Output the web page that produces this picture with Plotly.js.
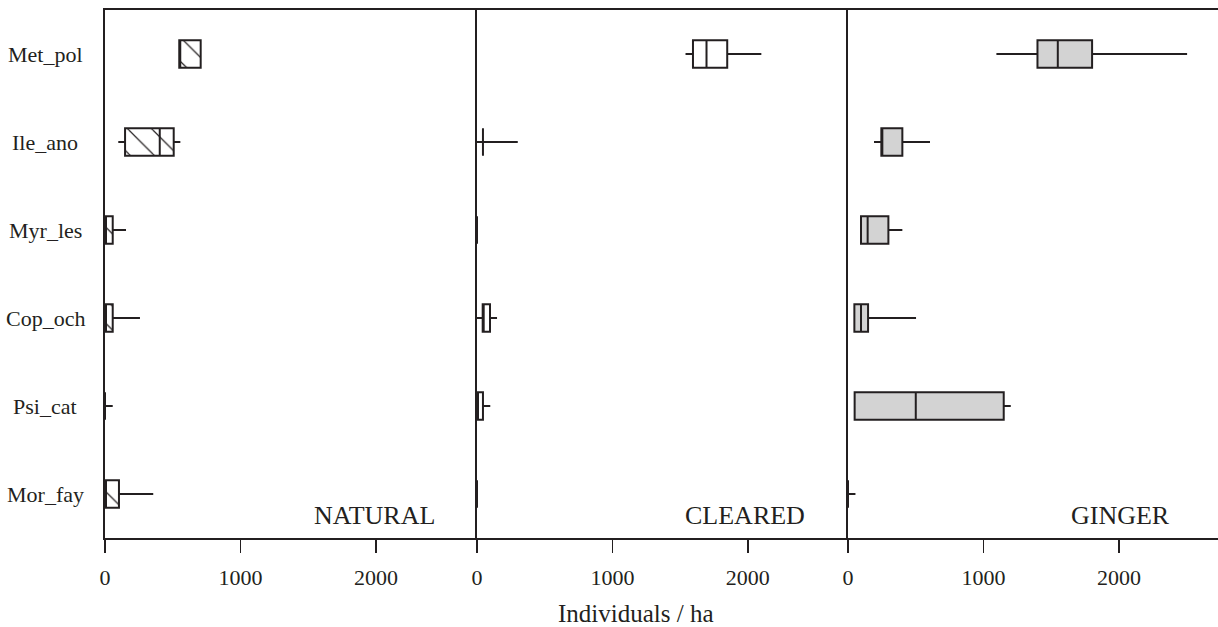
<!DOCTYPE html>
<html>
<head>
<meta charset="utf-8">
<script src="https://cdn.plot.ly/plotly-3.0.1.min.js"></script>
<style>html,body{margin:0;padding:0;background:#fff;}#chart{width:1218px;height:627px;}</style>
</head>
<body>
<div id="chart"></div>
<script>
// Species (top to bottom)
const categories = ['Met_pol','Ile_ano','Myr_les','Cop_och','Psi_cat','Mor_fay'];
const panelNames = ['NATURAL','CLEARED','GINGER'];
const tickValues = [0, 1000, 2000];
const axisTitle = 'Individuals / ha';

// NATURAL
const naturalMin = [548, 98, 0, 0, 0, 0];
const naturalQ1  = [548, 148, 0, 0, 0, 0];
const naturalMed = [548, 404, 0, 0, 0, 0];
const naturalQ3  = [706, 507, 57, 57, 0, 103];
const naturalMax = [706, 556, 155, 258, 57, 356];

// CLEARED
const clearedMin = [1540, 0, 0, 0, 0, 0];
const clearedQ1  = [1595, 44, 0, 42, 0, 0];
const clearedMed = [1695, 44, 0, 42, 0, 0];
const clearedQ3  = [1848, 44, 0, 96, 44, 0];
const clearedMax = [2100, 301, 0, 148, 98, 0];

// GINGER
const gingerMin = [1095, 192, 96, 47, 49, 0];
const gingerQ1  = [1398, 246, 96, 47, 49, 0];
const gingerMed = [1548, 246, 145, 96, 500, 0];
const gingerQ3  = [1801, 401, 298, 148, 1149, 0];
const gingerMax = [2502, 605, 401, 502, 1201, 55];

const INK = '#231f20';
const FONT = 'Liberation Serif, Times New Roman, serif';
const BOXW = 0.31;

function boxTrace(mn, q1, med, q3, mx, fill, xa, ya) {
  return {
    type: 'box', orientation: 'h', y: categories,
    q1: q1, median: med, q3: q3, lowerfence: mn, upperfence: mx,
    fillcolor: fill, line: {color: INK, width: 2}, whiskerwidth: 0,
    width: BOXW, boxpoints: false, showlegend: false, hoverinfo: 'skip',
    xaxis: xa, yaxis: ya
  };
}

const traces = [
  {
    type: 'bar', orientation: 'h', y: categories,
    base: naturalQ1, x: naturalQ3.map((v, i) => v - naturalQ1[i]),
    width: BOXW, showlegend: false, hoverinfo: 'skip',
    marker: {color: '#ffffff', line: {width: 0},
      pattern: {shape: '\\', fgcolor: INK, bgcolor: '#ffffff', size: 17, solidity: 0.07}},
    xaxis: 'x', yaxis: 'y'
  },
  boxTrace(naturalMin, naturalQ1, naturalMed, naturalQ3, naturalMax, 'rgba(0,0,0,0)', 'x', 'y'),
  boxTrace(clearedMin, clearedQ1, clearedMed, clearedQ3, clearedMax, '#ffffff', 'x2', 'y2'),
  boxTrace(gingerMin, gingerQ1, gingerMed, gingerQ3, gingerMax, '#d3d3d3', 'x3', 'y3')
];

const W = 1113; // plot width in px (1218 - 105)
const d1 = 372 / W, d2 = 743 / W;

function xAxis(dom, anchor, rng) {
  return {
    domain: dom, anchor: anchor, range: rng,
    tickvals: tickValues, ticktext: tickValues.map(String),
    ticks: 'outside', ticklen: 13, tickwidth: 1.5, tickcolor: INK,
    ticklabelstandoff: 6,
    showline: true, linewidth: 2, linecolor: INK, mirror: true,
    showgrid: false, zeroline: false, fixedrange: true,
    tickfont: {family: FONT, size: 22, color: INK}
  };
}
function yAxis(anchor) {
  return {
    anchor: anchor, domain: [0, 1], type: 'category',
    categoryorder: 'array', categoryarray: categories,
    range: [5.5, -0.5],
    showline: true, linewidth: 2, linecolor: INK, mirror: false,
    showticklabels: false, ticks: '', showgrid: false, zeroline: false, fixedrange: true
  };
}

const annotations = [];
categories.forEach(c => annotations.push({
  xref: 'paper', yref: 'y', x: (45 - 105) / W, y: c, text: c, showarrow: false,
  xanchor: 'center', yanchor: 'middle', font: {family: FONT, size: 22, color: INK}
}));
const panelRight = [437, 807, 1172];
panelNames.forEach((n, i) => annotations.push({
  xref: 'paper', yref: 'paper', x: (panelRight[i] - 105) / W, y: (538 - 515) / 528,
  text: n, showarrow: false, xanchor: 'right', yanchor: 'middle',
  font: {family: FONT, size: 26, color: INK}
}));
annotations.push({
  xref: 'paper', yref: 'paper', x: (636 - 105) / W, y: (538 - 613) / 528,
  text: axisTitle, showarrow: false, xanchor: 'center', yanchor: 'middle',
  font: {family: FONT, size: 25, color: INK}
});

const layout = {
  width: 1218, height: 627,
  margin: {l: 105, r: 0, t: 10, b: 89},
  paper_bgcolor: '#ffffff', plot_bgcolor: '#ffffff',
  showlegend: false, barmode: 'overlay', boxmode: 'overlay',
  xaxis: xAxis([0, d1], 'y', [0, 2745]),
  xaxis2: xAxis([d1, d2], 'y2', [0, 2740]),
  xaxis3: xAxis([d2, 1], 'y3', [0, 2730]),
  yaxis: yAxis('x'), yaxis2: yAxis('x2'), yaxis3: yAxis('x3'),
  annotations: annotations,
  font: {family: FONT, color: INK}
};

Plotly.newPlot('chart', traces, layout, {displayModeBar: false, staticPlot: true});
</script>
</body>
</html>
